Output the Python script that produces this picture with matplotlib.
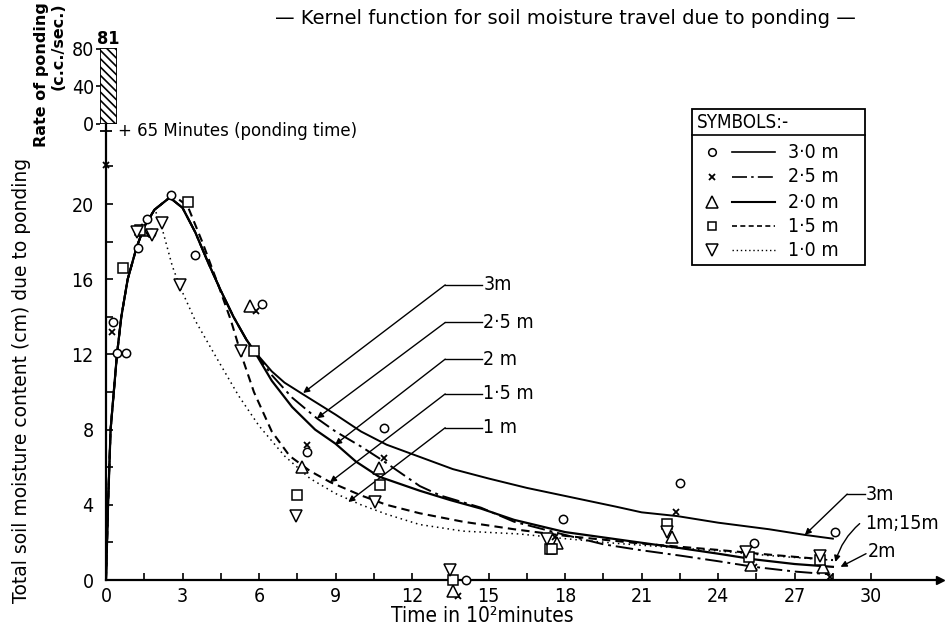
import numpy as np
import matplotlib
matplotlib.use("Agg")
import matplotlib.pyplot as plt
from matplotlib import font_manager
from matplotlib.font_manager import FontProperties
from matplotlib.patches import Rectangle

# ---- data (time in 10^2 min, moisture in cm) ----
# smooth kernel curves, one per depth
t_30 = [0, 0.08, 0.18, 0.43, 0.6, 0.85, 1.2, 1.5, 1.9, 2.5, 3.0, 3.5, 4.0, 4.5, 5.0, 5.5, 5.8,
        6.5, 7.0, 7.7, 9.0, 10.0, 11.0, 12.4, 13.6, 15.0, 16.5, 18.6, 20.0, 21.0, 22.4, 24.0, 26.0, 27.4, 28.5]
y_30 = [0, 4, 8, 12, 14, 16, 17.7, 18.8, 19.7, 20.35, 19.8, 18.5, 16.9, 15.4, 14.0, 12.8, 12.2,
        11.1, 10.5, 9.9, 8.8, 7.9, 7.2, 6.5, 5.9, 5.4, 4.9, 4.3, 3.9, 3.6, 3.4, 3.05, 2.7, 2.4, 2.2]

t_25 = [0, 0.08, 0.18, 0.43, 0.6, 0.85, 1.2, 1.5, 1.9, 2.5, 3.0, 3.5, 4.0, 4.5, 5.0, 5.5, 5.8,
        6.5, 7.3, 8.27, 9.0, 10.0, 10.8, 12.3, 13.1, 14.7, 16.0, 18.0, 19.5, 20.9, 22.5, 24.0, 25.4, 27.0, 28.4]
y_25 = [0, 4, 8, 12, 14, 16, 17.7, 18.8, 19.7, 20.35, 19.8, 18.5, 16.9, 15.4, 14.0, 12.8, 12.2,
        10.9, 9.7, 8.6, 7.9, 7.1, 6.4, 5.0, 4.5, 3.85, 3.1, 2.4, 1.9, 1.6, 1.3, 1.0, 0.7, 0.45, 0.3]

t_20 = [0, 0.08, 0.18, 0.43, 0.6, 0.85, 1.2, 1.5, 1.9, 2.5, 3.0, 3.5, 4.0, 4.5, 5.0, 5.5, 5.8,
        6.5, 7.3, 8.2, 9.0, 9.8, 10.7, 12.3, 13.5, 14.7, 16.0, 18.0, 20.9, 22.5, 24.0, 25.4, 27.0, 28.5]
y_20 = [0, 4, 8, 12, 14, 16, 17.7, 18.8, 19.7, 20.35, 19.8, 18.5, 16.9, 15.4, 14.0, 12.8, 12.2,
        10.6, 9.2, 8.0, 7.25, 6.3, 5.5, 4.75, 4.25, 3.8, 3.2, 2.55, 2.0, 1.7, 1.4, 1.1, 0.85, 0.7]

t_15 = [0, 0.08, 0.18, 0.43, 0.6, 0.85, 1.2, 1.5, 1.9, 2.5, 2.8, 3.2, 3.8, 4.4, 4.9, 5.3, 5.8,
        6.5, 7.2, 8.0, 8.8, 10.0, 11.0, 12.3, 14.0, 16.0, 18.0, 20.9, 24.0, 26.0, 28.5]
y_15 = [0, 4, 8, 12, 14, 16, 17.7, 18.8, 19.7, 20.35, 20.3, 19.9, 17.9, 15.7, 13.8, 12.0, 10.0,
        7.9, 6.6, 5.8, 5.2, 4.5, 4.0, 3.55, 3.1, 2.7, 2.35, 1.95, 1.6, 1.35, 1.06]

t_10 = [0, 0.08, 0.18, 0.43, 0.6, 0.85, 1.2, 1.5, 1.9, 2.1, 2.3, 2.6, 2.9, 3.5, 4.3, 5.2, 6.0,
        7.0, 8.0, 9.0, 10.0, 11.0, 12.3, 14.0, 16.2, 18.0, 20.0, 22.0, 24.0, 26.0, 28.5]
y_10 = [0, 4, 8, 12, 14, 16, 17.7, 18.8, 19.7, 19.2, 18.2, 16.7, 15.6, 13.8, 11.9, 9.8, 8.2,
        6.6, 5.4, 4.6, 4.0, 3.5, 2.95, 2.6, 2.45, 2.2, 1.95, 1.75, 1.55, 1.3, 1.05]

# observed points
obs_t_30 = [0.27, 0.43, 0.78, 1.27, 1.6, 1.75, 2.55, 3.5, 6.1, 7.9, 10.9, 14.1, 17.9, 22.5, 25.4, 28.6]
obs_y_30 = [13.7, 12.1, 12.1, 17.65, 19.2, 18.45, 20.5, 17.3, 14.7, 6.8, 8.1, 0.0, 3.25, 5.15, 1.95, 2.55]
obs_t_25 = [0.0, 0.23, 1.35, 1.75, 5.9, 5.9, 7.9, 10.9, 13.8, 17.6, 22.35, 25.4, 28.4]
obs_y_25 = [22.1, 13.2, 18.7, 18.4, 14.3, 12.2, 7.2, 6.5, -0.85, 2.3, 3.6, 0.7, 0.15]
obs_t_20 = [1.4, 5.65, 7.7, 10.7, 13.6, 17.7, 22.2, 25.3, 28.1]
obs_y_20 = [18.6, 14.6, 6.0, 5.95, -0.6, 1.95, 2.3, 0.8, 0.7]
obs_t_15 = [0.67, 1.35, 3.2, 5.8, 7.5, 10.75, 13.6, 17.4, 17.5, 22.0, 25.2, 28.0]
obs_y_15 = [16.6, 18.6, 20.1, 12.2, 4.5, 5.05, 0.0, 1.65, 1.65, 3.0, 1.2, 1.05]
obs_t_10 = [1.2, 1.8, 2.2, 2.9, 5.3, 7.45, 10.55, 13.5, 17.3, 22.0, 25.1, 28.0]
obs_y_10 = [18.5, 18.35, 19.0, 15.7, 12.2, 3.4, 4.15, 0.53, 2.2, 2.55, 1.5, 1.3]

ponding_rate = [81]
x_ticks = [0, 3, 6, 9, 12, 15, 18, 21, 24, 27, 30]
y_ticks = [0, 4, 8, 12, 16, 20]
depth_labels = ["3·0 m", "2·5 m", "2·0 m", "1·5 m", "1·0 m"]

# curve call-outs: label, label y, arrow tip (t, y)
left_labels = ["3m", "2·5 m", "2 m", "1·5 m", "1 m"]
left_label_y = [15.7, 13.7, 11.75, 9.9, 8.1]
left_tip_t = [7.73, 8.27, 8.98, 8.78, 9.5]
left_tip_y = [9.95, 8.6, 7.2, 5.2, 4.15]

W, H = 947, 633
def fx(px):
    return px / W
def fy(py):
    return 1 - py / H

# look for a narrow face for the digits, else fall back to Liberation Sans
cands = [f for f in font_manager.fontManager.ttflist
         if ("Narrow" in f.name or "Condensed" in f.name or "condensed" in str(f.stretch)
             or "Condensed" in f.fname or "Narrow" in f.fname)
         and f.style == "normal" and f.weight in (400, "normal", "regular")]
bold_cands = [f for f in font_manager.fontManager.ttflist
              if ("Condensed" in f.fname or "Narrow" in f.fname)
              and f.style == "normal" and f.weight in (700, "bold")]
def nfont(size, bold=False):
    if bold and bold_cands:
        return FontProperties(fname=bold_cands[0].fname, size=size)
    if cands:
        fp = FontProperties(fname=cands[0].fname, size=size)
    else:
        fp = FontProperties(family="Liberation Sans", size=size)
    if bold:
        fp.set_weight("bold")
    return fp

plt.rcParams["hatch.linewidth"] = 1.2
fig = plt.figure(figsize=(W / 100, H / 100), dpi=100)

ax = fig.add_axes([fx(106), fy(580), 834 / W, 456 / H])
ax.set_xlim(0, 32.7)
ax.set_ylim(0, 24.26)
ax.spines[["top", "right"]].set_visible(False)
for s in ("left", "bottom"):
    ax.spines[s].set_linewidth(1.6)

# curves (broken styles first, solid on top)
ax.plot(t_10, y_10, color="k", lw=1.1, ls=(0, (1, 2.5)))
ax.plot(t_15, y_15, color="k", lw=1.5, ls=(0, (4, 2.5)))
ax.plot(t_25, y_25, color="k", lw=1.4, ls=(0, (9, 2.5, 1.5, 2.5)))
ax.plot(t_20, y_20, color="k", lw=1.6)
ax.plot(t_30, y_30, color="k", lw=1.4)

mk = dict(ls="none", mfc="white", mec="k", mew=1.1, clip_on=False, zorder=5)
ax.plot(obs_t_30, obs_y_30, marker="o", ms=6, **mk)
ax.plot(obs_t_25, obs_y_25, marker="x", ms=5, color="k", ls="none", mew=1.3, clip_on=False, zorder=5)
ax.plot(obs_t_20, obs_y_20, marker="^", ms=9, **mk)
ax.plot(obs_t_15, obs_y_15, marker="s", ms=6.5, **mk)
ax.plot(obs_t_10, obs_y_10, marker="v", ms=9, **mk)

# ticks
ax.set_xticks(x_ticks)
ax.set_xticks(np.arange(1.5, 30, 3), minor=True)
ax.set_yticks(y_ticks)
ax.set_yticks([2, 6, 10, 14, 18, 22], minor=True)
ax.tick_params(which="both", direction="in", length=5, width=1.2)
ax.tick_params(axis="x", pad=5)
ax.tick_params(axis="y", pad=9)
for lab in ax.get_xticklabels() + ax.get_yticklabels():
    lab.set_fontproperties(nfont(14))

# arrow at end of time axis and ponding-time mark
ax.plot([1], [0], marker=">", ms=6, color="k", transform=ax.get_yaxis_transform(), clip_on=False)
ax.plot([0], [23.9], marker="+", ms=9, mew=1.3, color="k", clip_on=False)

# call-outs on the left
arr = dict(arrowstyle="-|>", color="k", lw=1.0, mutation_scale=9, shrinkA=0, shrinkB=0)
for lab, ly, tt, ty in zip(left_labels, left_label_y, left_tip_t, left_tip_y):
    ax.plot([13.3, 14.75], [ly, ly], color="k", lw=1.0)
    ax.annotate("", xy=(tt, ty), xytext=(13.3, ly), arrowprops=arr)
    ax.text(14.8, ly, lab, ha="left", va="center", fontproperties=nfont(14))

# call-outs on the right
ax.plot([29.06, 29.75], [4.57, 4.57], color="k", lw=1.0, clip_on=False)
ax.annotate("", xy=(27.4, 2.4), xytext=(29.06, 4.57), arrowprops=arr)
ax.text(29.8, 4.57, "3m", ha="left", va="center", fontproperties=nfont(14))
ax.annotate("", xy=(28.6, 0.96), xytext=(29.55, 3.0),
            arrowprops=dict(arr, connectionstyle="arc3,rad=0.15"))
ax.text(29.75, 3.03, "1m;15m", ha="left", va="center", fontproperties=nfont(14))
ax.annotate("", xy=(28.8, 0.7), xytext=(29.8, 1.4), arrowprops=arr)
ax.text(29.85, 1.5, "2m", ha="left", va="center", fontproperties=nfont(14))

# rate of ponding inset bar
axb = fig.add_axes([fx(100), fy(124), 17 / W, 76 / H])
axb.bar([0.5], ponding_rate, width=1, color="white", edgecolor="k", hatch="\\\\\\\\", lw=1.3)
axb.set_xlim(0, 1)
axb.set_ylim(0, 81)
for s in axb.spines.values():
    s.set_visible(False)
axb.set_xticks([])
axb.set_yticks([0, 40, 80])
axb.tick_params(axis="y", direction="out", length=3, width=1.2, pad=1)
for lab in axb.get_yticklabels():
    lab.set_fontproperties(nfont(14))
axb.text(0.5, 81, "81", ha="center", va="bottom", fontproperties=nfont(13, bold=True))

# texts
fig.text(fx(50), fy(2), "Rate of ponding\n(c.c./sec.)", rotation=90, ha="center", va="top",
         multialignment="right", fontsize=11.5, fontweight="bold", linespacing=1.1)
fig.text(fx(118), fy(131), "+ 65 Minutes (ponding time)", ha="left", va="center", fontsize=12)
fig.text(fx(565), fy(18), "— Kernel function for soil moisture travel due to ponding —",
         ha="center", va="center", fontsize=14)
fig.text(fx(22), fy(380), "Total soil moisture content (cm) due to ponding", rotation=90,
         ha="center", va="center", fontsize=13.5)
fig.text(fx(482), fy(616), "Time in 10²minutes", ha="center", va="center", fontproperties=nfont(15))

# legend box drawn in pixel space
ov = fig.add_axes([0, 0, 1, 1], facecolor="none")
ov.set_xlim(0, W)
ov.set_ylim(H, 0)
ov.axis("off")
ov.add_patch(Rectangle((692, 109), 173, 156, fill=False, lw=1.3, ec="k"))
ov.plot([692, 865], [135, 135], color="k", lw=1.2)
ov.text(697, 122, "SYMBOLS:-", ha="left", va="center", fontproperties=nfont(13.5))
row_y = [152, 177, 202, 226, 250]
leg_markers = ["o", "x", "^", "s", "v"]
leg_ms = [5.5, 5, 8, 6, 8]
leg_ls = ["-", (0, (9, 2.5, 1.5, 2.5)), "-", (0, (3, 2)), (0, (1, 2))]
leg_lw = [1.2, 1.2, 1.5, 1.2, 1.0]
for ry, m, ms, ls, lw, lab in zip(row_y, leg_markers, leg_ms, leg_ls, leg_lw, depth_labels):
    if m == "x":
        ov.plot([712], [ry], marker=m, ms=ms, color="k", mew=1.3)
    else:
        ov.plot([712], [ry], marker=m, ms=ms, mfc="white", mec="k", mew=1.1)
    ov.plot([732, 775], [ry, ry], color="k", ls=ls, lw=lw)
    ov.text(788, ry, lab, ha="left", va="center", fontproperties=nfont(14))

fig.savefig("out.png", dpi=100)
